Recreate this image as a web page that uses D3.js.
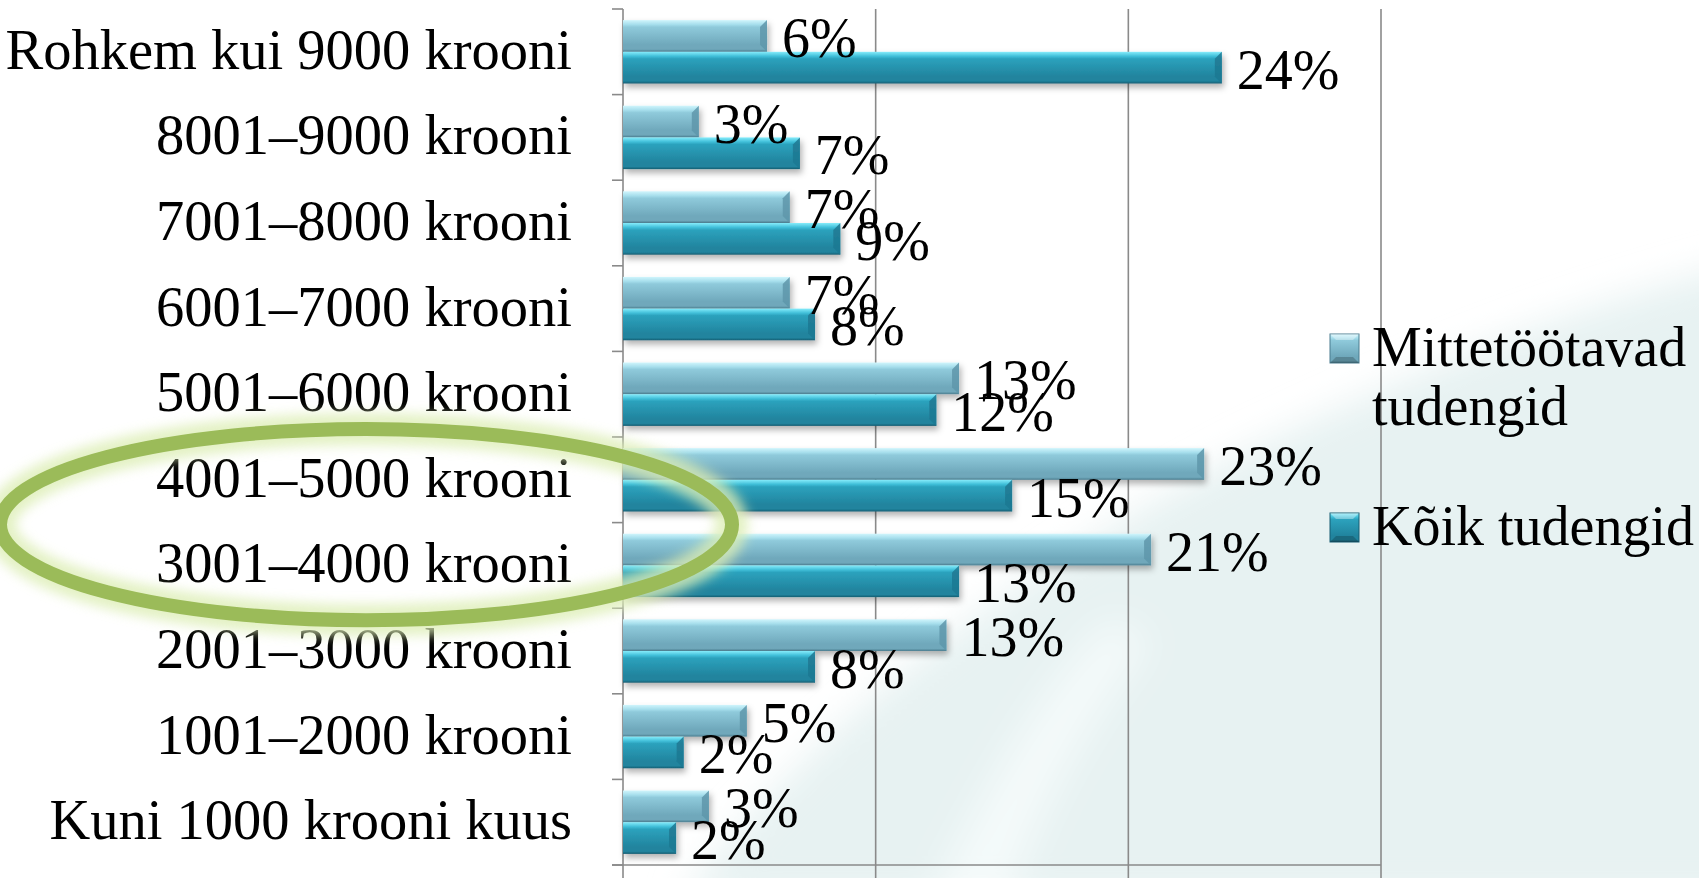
<!DOCTYPE html>
<html>
<head>
<meta charset="utf-8">
<title>Tudengite sissetulek</title>
<script src="https://d3js.org/d3.v7.min.js"></script>
<style>
  html, body { margin: 0; padding: 0; background: #ffffff; overflow: hidden; }
  svg { display: block; }
  text { font-family: "Liberation Serif", "DejaVu Serif", serif; fill: #000; }
</style>
</head>
<body>
<svg width="1699" height="878"></svg>
<script>
// categories, top to bottom as in the chart
var categories = [
  'Rohkem kui 9000 krooni',
  '8001–9000 krooni',
  '7001–8000 krooni',
  '6001–7000 krooni',
  '5001–6000 krooni',
  '4001–5000 krooni',
  '3001–4000 krooni',
  '2001–3000 krooni',
  '1001–2000 krooni',
  'Kuni 1000 krooni kuus'
];
var seriesNames = ['Mittetöötavad tudengid', 'Kõik tudengid'];
// percent values (bar lengths)
var mittetootavad = [5.7, 3.0, 6.6, 6.6, 13.3, 23.0, 20.9, 12.8, 4.9, 3.4];
var koik = [23.7, 7.0, 8.6, 7.6, 12.4, 15.4, 13.3, 7.6, 2.4, 2.1];
var xTicks = [0, 10, 20, 30];
var highlighted = ['4001–5000 krooni', '3001–4000 krooni'];

var svg = d3.select('svg');
var defs = svg.append('defs');

// ---- background swoosh ----
var bgBlur = defs.append('filter').attr('id', 'bgblur')
  .attr('x', '-20%').attr('y', '-20%').attr('width', '140%').attr('height', '140%');
bgBlur.append('feGaussianBlur').attr('stdDeviation', 18);

var bg = svg.append('g').attr('filter', 'url(#bgblur)');
bg.append('path')
  .attr('d', 'M 680 900 C 820 720, 1000 580, 1250 450 C 1420 370, 1560 310, 1760 260 L 1760 900 Z')
  .attr('fill', '#e7f2f2');
bg.append('path')
  .attr('d', 'M 930 900 C 1000 760, 1050 680, 1110 620 L 1150 640 C 1090 720, 1040 800, 1010 900 Z')
  .attr('fill', '#f4fafa');

// ---- scales ----
var x = d3.scaleLinear().domain([0, 30]).range([623, 1381]);
var y = d3.scaleBand().domain(categories).range([9, 865]).padding(0);
var ySub = d3.scaleBand().domain(seriesNames).range([0, y.bandwidth()])
  .paddingInner(0).paddingOuter(0.35);

// ---- gridlines & axes ----
var axisColor = '#8a8a8a';
svg.append('g').selectAll('line.grid')
  .data(xTicks.slice(1))
  .enter().append('line')
  .attr('x1', function(d) { return x(d); })
  .attr('x2', function(d) { return x(d); })
  .attr('y1', y.range()[0])
  .attr('y2', y.range()[1] + 14)
  .attr('stroke', axisColor).attr('stroke-width', 1.6);

// left axis with ticks at category boundaries
var bounds = categories.map(function(c) { return y(c); }).concat([y.range()[1]]);
svg.append('line')
  .attr('x1', x(0)).attr('x2', x(0))
  .attr('y1', y.range()[0]).attr('y2', y.range()[1] + 14)
  .attr('stroke', axisColor).attr('stroke-width', 1.6);
svg.append('g').selectAll('line')
  .data(bounds)
  .enter().append('line')
  .attr('x1', x(0) - 11).attr('x2', x(0))
  .attr('y1', function(d) { return d; }).attr('y2', function(d) { return d; })
  .attr('stroke', axisColor).attr('stroke-width', 1.6);
// bottom axis
svg.append('line')
  .attr('x1', x(0) - 11).attr('x2', x(30))
  .attr('y1', y.range()[1]).attr('y2', y.range()[1])
  .attr('stroke', axisColor).attr('stroke-width', 1.6);

// ---- bar gradients ----
var palettes = {
  'Mittetöötavad tudengid': { top: '#d0f5fc', hi: '#a6deec', mid: '#8fcadb', low: '#6fa8bb', edge: '#4b7d8f', end: '#5f97aa' },
  'Kõik tudengid':          { top: '#86ecfb', hi: '#40bfd9', mid: '#2ca2bd', low: '#21849e', edge: '#165d72', end: '#1f7892' }
};
seriesNames.forEach(function(s, i) {
  var p = palettes[s];
  var g = defs.append('linearGradient').attr('id', 'grad' + i)
    .attr('x1', 0).attr('y1', 0).attr('x2', 0).attr('y2', 1);
  g.append('stop').attr('offset', '0%').attr('stop-color', p.top);
  g.append('stop').attr('offset', '14%').attr('stop-color', p.hi);
  g.append('stop').attr('offset', '22%').attr('stop-color', p.mid);
  g.append('stop').attr('offset', '78%').attr('stop-color', p.low);
  g.append('stop').attr('offset', '92%').attr('stop-color', p.low);
  g.append('stop').attr('offset', '100%').attr('stop-color', p.edge);
});

var shadow = defs.append('filter').attr('id', 'shadow')
  .attr('x', '-10%').attr('y', '-30%').attr('width', '130%').attr('height', '180%');
shadow.append('feDropShadow').attr('dx', 2).attr('dy', 4).attr('stdDeviation', 3)
  .attr('flood-color', '#000').attr('flood-opacity', 0.3);

// ---- bars ----
var rows = categories.map(function(c, i) {
  return { category: c, values: [
    { series: seriesNames[0], value: mittetootavad[i], idx: 0 },
    { series: seriesNames[1], value: koik[i], idx: 1 }
  ] };
});

var rowG = svg.append('g').selectAll('g.row')
  .data(rows)
  .enter().append('g')
  .attr('class', 'row')
  .attr('transform', function(d) { return 'translate(0,' + y(d.category) + ')'; });

var bar = rowG.selectAll('g.bar')
  .data(function(d) { return d.values; })
  .enter().append('g')
  .attr('class', 'bar')
  .attr('filter', 'url(#shadow)');

bar.append('rect')
  .attr('x', x(0))
  .attr('y', function(d) { return ySub(d.series); })
  .attr('width', function(d) { return x(d.value) - x(0); })
  .attr('height', ySub.bandwidth())
  .attr('fill', function(d) { return 'url(#grad' + d.idx + ')'; });

// bevelled right end
bar.append('path')
  .attr('d', function(d) {
    var x1 = x(d.value), y0 = ySub(d.series), h = ySub.bandwidth(), b = 7;
    return 'M' + x1 + ',' + y0 + ' L' + x1 + ',' + (y0 + h) +
      ' L' + (x1 - b) + ',' + (y0 + h - b) + ' L' + (x1 - b) + ',' + (y0 + b) + ' Z';
  })
  .attr('fill', function(d) { return palettes[d.series].end; })
  .attr('opacity', 0.85);

// value labels
rowG.selectAll('text.val')
  .data(function(d) { return d.values; })
  .enter().append('text')
  .attr('class', 'val')
  .attr('x', function(d) { return x(d.value) + 15; })
  .attr('y', function(d) { return ySub(d.series) + ySub.bandwidth() / 2 + 21; })
  .attr('font-size', 56)
  .text(function(d) { return Math.round(d.value) + '%'; });

// category labels
svg.append('g').selectAll('text.cat')
  .data(categories)
  .enter().append('text')
  .attr('x', 572)
  .attr('y', function(d) { return y(d) + y.bandwidth() / 2 + 17; })
  .attr('text-anchor', 'end')
  .attr('font-size', 56.5)
  .text(function(d) { return d; });

// ---- legend ----
var legendLines = [['Mittetöötavad', 'tudengid'], ['Kõik tudengid']];
var legY = d3.scaleOrdinal().domain(seriesNames).range([366, 545]);
var leg = svg.append('g').selectAll('g.leg')
  .data(seriesNames)
  .enter().append('g')
  .attr('transform', function(d) { return 'translate(1330,' + legY(d) + ')'; });
leg.append('rect')
  .attr('x', 0).attr('y', -32).attr('width', 29).attr('height', 29)
  .attr('fill', function(d, i) { return 'url(#grad' + i + ')'; })
  .attr('stroke', function(d) { return palettes[d].edge; })
  .attr('stroke-width', 1);
leg.append('path')
  .attr('d', 'M0,-32 L6,-26 L23,-26 L29,-32 Z')
  .attr('fill', '#ffffff').attr('opacity', 0.35);
leg.append('path')
  .attr('d', 'M0,-3 L6,-9 L23,-9 L29,-3 Z')
  .attr('fill', '#000000').attr('opacity', 0.2);
leg.append('text')
  .attr('x', 42)
  .attr('font-size', 56)
  .selectAll('tspan')
  .data(function(d, i) { return legendLines[i]; })
  .enter().append('tspan')
  .attr('x', 42)
  .attr('dy', function(d, i) { return i === 0 ? 0 : 59; })
  .text(function(d) { return d; });

// ---- highlight ellipse around the 3001–5000 rows ----
var hiTop = y(highlighted[0]), hiBot = y(highlighted[1]) + y.bandwidth();
var glow = defs.append('filter').attr('id', 'glow')
  .attr('x', '-20%').attr('y', '-50%').attr('width', '140%').attr('height', '200%');
glow.append('feGaussianBlur').attr('stdDeviation', 6);
var ell = svg.append('g');
ell.append('ellipse')
  .attr('cx', 366).attr('cy', (hiTop + hiBot) / 2 + 2)
  .attr('rx', 366).attr('ry', (hiBot - hiTop) / 2 + 10)
  .attr('fill', 'none').attr('stroke', '#ddeeb6').attr('stroke-width', 32)
  .attr('opacity', 0.8).attr('filter', 'url(#glow)');
ell.append('ellipse')
  .attr('cx', 366).attr('cy', (hiTop + hiBot) / 2 + 2)
  .attr('rx', 366).attr('ry', (hiBot - hiTop) / 2 + 10)
  .attr('fill', 'none').attr('stroke', '#9bbb59').attr('stroke-width', 14);
</script>
</body>
</html>
